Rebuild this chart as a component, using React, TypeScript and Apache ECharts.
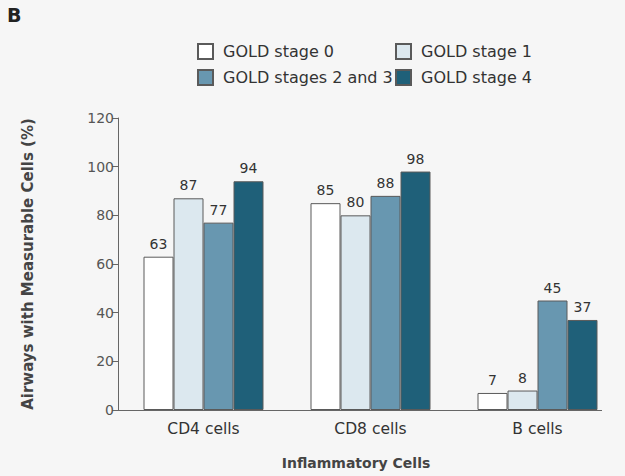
import React, { useEffect, useRef } from "react";
import * as echarts from "echarts";

const categories = ["CD4 cells", "CD8 cells", "B cells"];
const seriesNames = ["GOLD stage 0", "GOLD stage 1", "GOLD stages 2 and 3", "GOLD stage 4"];
const stage0 = [63, 85, 7];
const stage1 = [87, 80, 8];
const stage23 = [77, 88, 45];
const stage4 = [94, 98, 37];
const yTicks = [0, 20, 40, 60, 80, 100, 120];

const colors = ["#ffffff", "#dce8ef", "#6897b0", "#1f6079"];
const FONT = "DejaVu Sans";

export default function App() {
  const ref = useRef<HTMLDivElement>(null);
  useEffect(() => {
    if (!ref.current) return;
    const chart = echarts.init(ref.current, undefined, { renderer: "svg" });
    const allData = [stage0, stage1, stage23, stage4];
    const legendBase = {
      orient: "vertical",
      top: 43,
      padding: 0,
      itemWidth: 15,
      itemHeight: 15,
      itemGap: 9,
      icon: "rect",
      textStyle: { fontSize: 16, color: "#333", fontFamily: FONT, padding: [0, 0, 0, 5] },
      selectedMode: false,
    };
    chart.setOption({
      animation: false,
      backgroundColor: "#f6f6f6",
      textStyle: { fontFamily: FONT },
      grid: { left: 120, right: 4, top: 118, bottom: 66 },
      legend: [
        { ...legendBase, data: [seriesNames[0], seriesNames[2]], left: 197 },
        { ...legendBase, data: [seriesNames[1], seriesNames[3]], left: 395 },
      ],
      xAxis: {
        type: "category",
        data: categories,
        axisLine: { show: false },
        axisTick: { show: false },
        axisLabel: { fontSize: 15.5, color: "#333", margin: 11, fontFamily: FONT },
      },
      yAxis: {
        type: "value",
        min: yTicks[0],
        max: yTicks[yTicks.length - 1],
        interval: 20,
        offset: 2,
        axisLine: { show: true, lineStyle: { color: "#666", width: 1 } },
        axisTick: { show: true, length: 6, lineStyle: { color: "#666" } },
        splitLine: { show: false },
        axisLabel: { fontSize: 14, color: "#555", margin: 4, fontFamily: FONT },
        name: "Airways with Measurable Cells (%)",
        nameLocation: "middle",
        nameGap: 83,
        nameTextStyle: { fontSize: 15, fontWeight: "bold", color: "#444", fontFamily: FONT },
      },
      graphic: [
        {
          type: "text",
          left: 7,
          top: 5,
          style: { text: "B", font: `bold 19px ${FONT}`, fill: "#222" },
        },
        {
          type: "line",
          shape: { x1: 118, y1: 410.5, x2: 602, y2: 410.5 },
          style: { stroke: "#666", lineWidth: 1 },
          z: 10,
        },
        {
          type: "text",
          x: 356,
          y: 463,
          style: {
            text: "Inflammatory Cells",
            font: `bold 14px ${FONT}`,
            fill: "#444",
            align: "center",
            verticalAlign: "middle",
          },
        },
      ],
      series: allData.map((d, i) => ({
        name: seriesNames[i],
        type: "bar",
        data: d,
        barWidth: 30,
        barGap: "0%",
        itemStyle: { color: colors[i], borderColor: "#5a5a5a", borderWidth: 1 },
        label: {
          show: true,
          position: "top",
          distance: 6,
          fontSize: 14,
          color: "#333",
          fontFamily: FONT,
        },
      })),
    });
    return () => chart.dispose();
  }, []);
  return <div ref={ref} style={{ width: 625, height: 476, position: "absolute", left: 0, top: 0 }} />;
}
